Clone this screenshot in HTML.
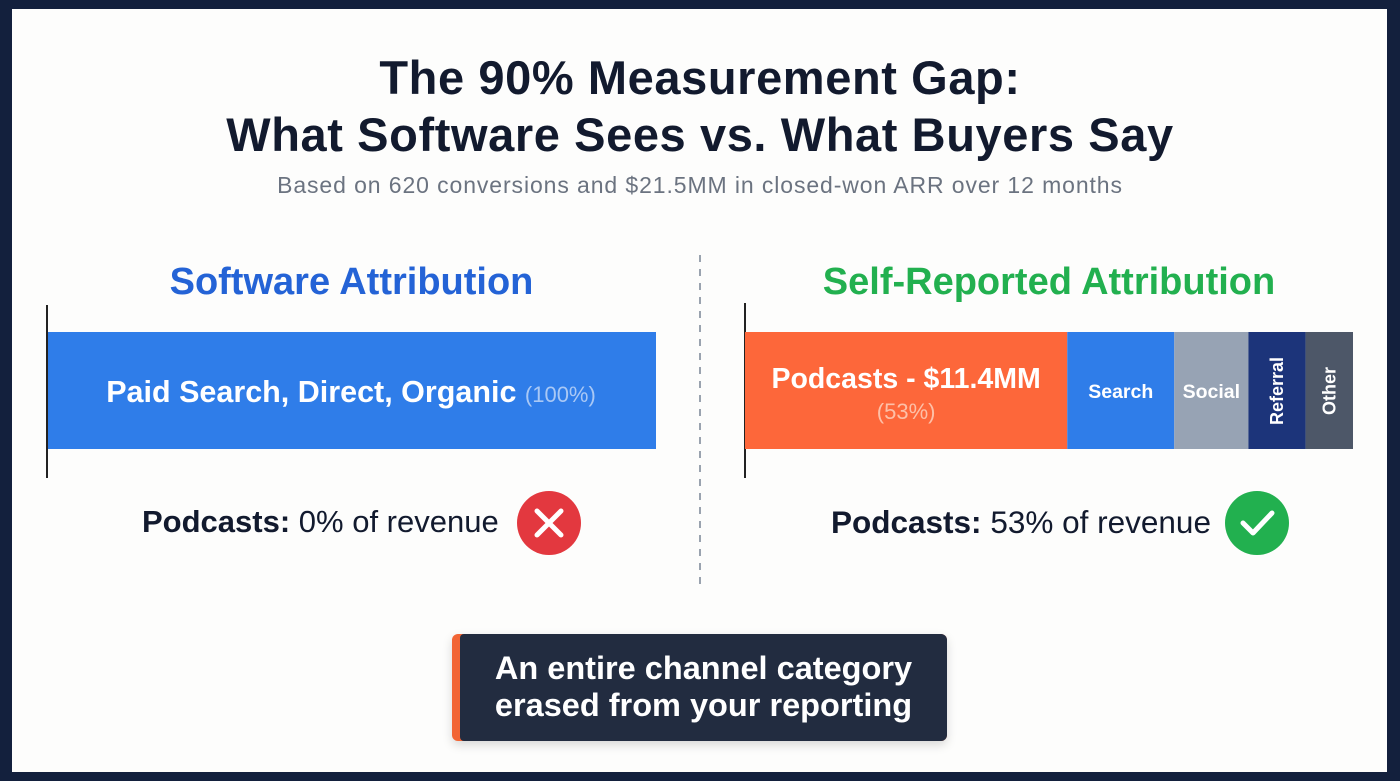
<!DOCTYPE html>
<html><head><meta charset="utf-8"><style>
*{margin:0;padding:0;box-sizing:border-box}
body{width:1400px;height:781px;background:#13203d;font-family:"Liberation Sans",sans-serif;position:relative;overflow:hidden}
.card{position:absolute;left:12px;top:9px;width:1375px;height:763px;background:#fdfdfc}
.abs{position:absolute}
.t{white-space:nowrap}
</style></head><body>
<div class="card"></div>
<div class="abs t" style="left:0;width:1400px;top:49px;text-align:center;font-size:47px;font-weight:bold;color:#121a2e;line-height:57px;letter-spacing:0.6px">The 90% Measurement Gap:<br>What Software Sees vs. What Buyers Say</div>
<div class="abs t" style="left:0;width:1400px;top:172px;text-align:center;font-size:23px;letter-spacing:0.9px;color:#6b7380">Based on 620 conversions and $21.5MM in closed-won ARR over 12 months</div>
<div class="abs t" style="left:47px;width:609px;top:261px;text-align:center;font-size:38px;font-weight:bold;color:#2463d6">Software Attribution</div>
<div class="abs t" style="left:745px;width:608px;top:261px;text-align:center;font-size:38px;font-weight:bold;color:#22b04f">Self-Reported Attribution</div>
<svg class="abs" style="left:0;top:0" width="1400" height="781">
<line x1="700" y1="255" x2="700" y2="588" stroke="#9aa3af" stroke-width="2" stroke-dasharray="7,7"/>
<line x1="47" y1="305" x2="47" y2="478" stroke="#222" stroke-width="2"/>
<rect x="48" y="332" width="608" height="117" fill="#2f7de9"/>
<text x="351" y="402" text-anchor="middle" font-size="30.5" font-weight="bold" fill="#fff">Paid Search, Direct, Organic <tspan font-weight="normal" font-size="22" fill="#a9c8f5">(100%)</tspan></text>
<line x1="745" y1="303" x2="745" y2="478" stroke="#222" stroke-width="2"/>
<g id="stack"></g>
<circle cx="549" cy="523" r="32" fill="#e3383f"/>
<path d="M537 511 L561 535 M561 511 L537 535" stroke="#fff" stroke-width="5" stroke-linecap="round"/>
<circle cx="1257" cy="523" r="32" fill="#22b04f"/>
<path d="M1243 523 L1253 533 L1272 513" stroke="#fff" stroke-width="5" fill="none" stroke-linecap="round" stroke-linejoin="round"/>
</svg>
<div class="abs t" style="left:142px;top:504px;font-size:31px;color:#121a2e"><b>Podcasts:</b> 0% of revenue</div>
<div class="abs t" style="left:831px;top:504px;font-size:31.5px;color:#121a2e"><b>Podcasts:</b> 53% of revenue</div>
<div class="abs" style="left:452px;top:634px;width:495px;height:107px;background:#f26535;border-radius:6px;box-shadow:0 4px 10px rgba(0,0,0,.15)">
<div style="position:absolute;left:8px;top:0;right:0;bottom:0;background:#222c40;border-radius:4px 6px 6px 4px;color:#fff;font-size:32.5px;font-weight:bold;text-align:center;line-height:37px;padding-top:16px">An entire channel category<br>erased from your reporting</div>
</div>
<script>
const channels=["Podcasts","Search","Social","Referral","Other"];
const shares=[53,17.6,12.2,9.4,7.8];
const colors=["#fd673a","#2f7de9","#97a3b4","#1c347a","#4d5768"];
const x0=745,W=608,y0=332,H=117;
const sx=v=>v/shares.reduce((a,b)=>a+b,0)*W;
const g=document.getElementById('stack');
const NS="http://www.w3.org/2000/svg";
let cx=x0;
channels.forEach((c,i)=>{
  const w=sx(shares[i]);
  const r=document.createElementNS(NS,'rect');
  r.setAttribute('x',cx);r.setAttribute('y',y0);r.setAttribute('width',w);r.setAttribute('height',H);r.setAttribute('fill',colors[i]);
  
  
  g.appendChild(r);
  const mid=cx+w/2;
  const t=document.createElementNS(NS,'text');
  t.setAttribute('fill','#fff');t.setAttribute('font-weight','bold');t.setAttribute('text-anchor','middle');
  
  
  if(i===0){
    t.setAttribute('x',mid);t.setAttribute('y',388);t.setAttribute('font-size','28.5');
    t.textContent=c+' - $11.4MM';
    const p=document.createElementNS(NS,'text');
    p.setAttribute('x',mid);p.setAttribute('y',419);p.setAttribute('font-size','22');p.setAttribute('fill','#fdc0a8');p.setAttribute('text-anchor','middle');
    p.textContent='('+shares[0]+'%)';
    
    
    g.appendChild(p);
  }else if(i<3){
    t.setAttribute('x',mid);t.setAttribute('y',398);t.setAttribute('font-size','19.5');t.textContent=c;
  }else{
    t.setAttribute('transform','translate('+(mid+6)+',391) rotate(-90)');t.setAttribute('font-size','18');t.textContent=c;
  }
  g.appendChild(t);
  cx+=w;
});
</script>
</body></html>
